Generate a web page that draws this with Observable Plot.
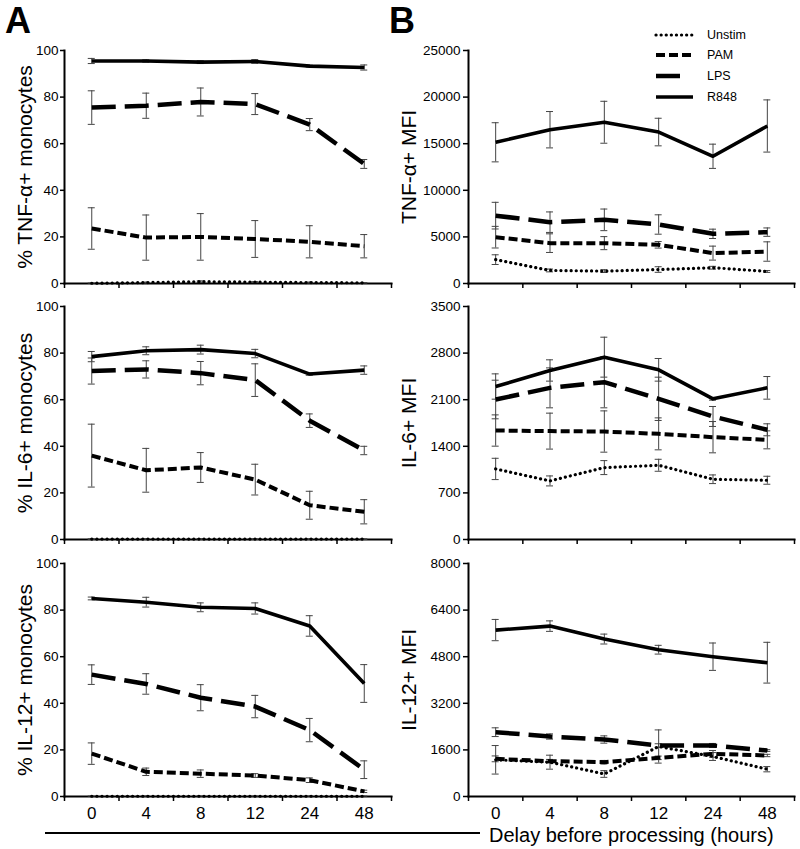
<!DOCTYPE html>
<html><head><meta charset="utf-8">
<script src="https://cdn.jsdelivr.net/npm/d3@7"></script>
<script src="https://cdn.jsdelivr.net/npm/@observablehq/plot@0.6"></script>
<style>
body{margin:0;background:#fff;font-family:"Liberation Sans",Arial,sans-serif;}
#fig{position:relative;width:800px;height:849px;overflow:hidden;background:#fff;}
#fig > svg, #fig > figure{position:absolute;margin:0;}
</style></head><body><div id="fig"></div>
<script>
// ---------- data ----------
const hours = ["0", "4", "8", "12", "24", "48"];
const series = ["Unstim", "PAM", "LPS", "R848"];

// A1: % TNF-α+ monocytes
const tnfPctUnstim = [0.1, 0.4, 0.8, 0.6, 0.4, 0.3];
const tnfPctUnstimErr = [0.1, 0.2, 0.3, 0.2, 0.2, 0.1];
const tnfPctPAM = [23.6, 19.7, 20.0, 19.1, 17.9, 16.0];
const tnfPctPAMErr = [8.9, 9.7, 10.0, 7.9, 6.9, 5.0];
const tnfPctLPS = [75.5, 76.3, 77.9, 77.0, 68.2, 51.3];
const tnfPctLPSErr = [7.2, 5.4, 6.0, 4.5, 2.6, 1.9];
const tnfPctR848 = [95.5, 95.5, 95.0, 95.3, 93.3, 92.7];
const tnfPctR848Err = [1.1, 0.5, 0.6, 0.8, 0.4, 1.1];

// A2: % IL-6+ monocytes
const il6PctUnstim = [0.2, 0.2, 0.2, 0.2, 0.2, 0.2];
const il6PctUnstimErr = [0.1, 0.1, 0.1, 0.1, 0.1, 0.1];
const il6PctPAM = [36.0, 29.7, 30.9, 25.7, 14.7, 11.9];
const il6PctPAMErr = [13.5, 9.4, 6.4, 6.6, 6.0, 5.2];
const il6PctLPS = [72.3, 73.0, 71.4, 68.4, 51.0, 38.2];
const il6PctLPSErr = [5.6, 3.7, 5.0, 7.0, 2.9, 1.8];
const il6PctR848 = [78.5, 81.0, 81.5, 79.8, 71.0, 72.7];
const il6PctR848Err = [2.2, 1.7, 1.9, 1.8, 0.5, 1.8];

// A3: % IL-12+ monocytes
const il12PctUnstim = [0.1, 0.1, 0.1, 0.1, 0.1, 0.1];
const il12PctUnstimErr = [0.1, 0.1, 0.1, 0.1, 0.1, 0.1];
const il12PctPAM = [18.4, 10.6, 9.8, 9.0, 7.0, 2.2];
const il12PctPAMErr = [4.6, 1.6, 1.6, 0.8, 1.0, 0.5];
const il12PctLPS = [52.3, 48.3, 42.4, 38.6, 28.5, 11.5];
const il12PctLPSErr = [4.2, 4.4, 5.6, 4.8, 5.0, 3.8];
const il12PctR848 = [85.0, 83.4, 81.2, 80.7, 73.2, 48.5];
const il12PctR848Err = [0.6, 2.1, 1.9, 2.4, 4.4, 8.1];

// B1: TNF-α+ MFI
const tnfMfiUnstim = [2560, 1400, 1330, 1500, 1690, 1290];
const tnfMfiUnstimErr = [520, 150, 150, 300, 150, 100];
const tnfMfiPAM = [4970, 4330, 4330, 4150, 3260, 3430];
const tnfMfiPAMErr = [1160, 1000, 700, 350, 750, 1040];
const tnfMfiLPS = [7280, 6580, 6830, 6330, 5330, 5510];
const tnfMfiLPSErr = [1430, 1100, 1160, 1040, 500, 450];
const tnfMfiR848 = [15150, 16500, 17300, 16250, 13650, 16900];
const tnfMfiR848Err = [2100, 1950, 2250, 1480, 1300, 2800];

// B2: IL-6+ MFI
const il6MfiUnstim = [1060, 880, 1080, 1115, 905, 890];
const il6MfiUnstimErr = [160, 75, 105, 90, 65, 60];
const il6MfiPAM = [1637, 1628, 1622, 1587, 1537, 1497];
const il6MfiPAMErr = [235, 270, 310, 240, 235, 135];
const il6MfiLPS = [2103, 2278, 2363, 2113, 1848, 1648];
const il6MfiLPSErr = [290, 300, 385, 325, 150, 90];
const il6MfiR848 = [2298, 2539, 2739, 2549, 2113, 2278];
const il6MfiR848Err = [190, 160, 300, 170, 20, 170];

// B3: IL-12+ MFI
const il12MfiUnstim = [1260, 1178, 773, 1716, 1373, 937];
const il12MfiUnstimErr = [490, 240, 115, 570, 135, 90];
const il12MfiPAM = [1293, 1213, 1178, 1327, 1465, 1408];
const il12MfiPAMErr = [100, 60, 60, 60, 115, 40];
const il12MfiLPS = [2208, 2060, 1957, 1751, 1751, 1579];
const il12MfiLPSErr = [150, 90, 125, 60, 70, 30];
const il12MfiR848 = [5714, 5850, 5406, 5040, 4800, 4594];
const il12MfiR848Err = [365, 180, 170, 150, 470, 700];

// axis ticks
const pctTicks = [0, 20, 40, 60, 80, 100];
const tnfMfiTicks = [0, 5000, 10000, 15000, 20000, 25000];
const il6MfiTicks = [0, 700, 1400, 2100, 2800, 3500];
const il12MfiTicks = [0, 1600, 3200, 4800, 6400, 8000];

// ---------- styles ----------
const FONT = '"Liberation Sans", Arial, Helvetica, sans-serif';
const lineStyle = {
  Unstim: {strokeWidth: 3.2, strokeDasharray: "0.1,5", strokeLinecap: "round"},
  PAM: {strokeWidth: 4, strokeDasharray: "9,4", strokeLinecap: "butt"},
  LPS: {strokeWidth: 4.5, strokeDasharray: "24,9", strokeLinecap: "butt"},
  R848: {strokeWidth: 3.6, strokeLinecap: "butt"}
};

const fig = document.getElementById("fig");

function makePanel(cfg) {
  const rows = [];
  series.forEach((s, si) => cfg.means[si].forEach((v, i) => rows.push({s, i, v, e: cfg.errs[si][i]})));
  const errStyle = {stroke: "#444", strokeWidth: 1};
  const marks = [
    Plot.frame({anchor: "left", strokeWidth: 2}),
    Plot.frame({anchor: "bottom", strokeWidth: 2}),
    Plot.ruleX(rows, {x: "i", y1: d => Math.max(0, d.v - d.e), y2: d => d.v + d.e, ...errStyle}),
    Plot.ruleY(rows, {x1: "i", x2: "i", y: d => d.v + d.e, insetLeft: -3.5, insetRight: -3.5, ...errStyle}),
    Plot.ruleY(rows.filter(d => d.v - d.e > 0), {x1: "i", x2: "i", y: d => d.v - d.e, insetLeft: -3.5, insetRight: -3.5, ...errStyle}),
    ...series.map(s => Plot.line(rows.filter(d => d.s === s), {x: "i", y: "v", stroke: "#000", ...lineStyle[s]})),
    Plot.axisY({ticks: cfg.yTicks, tickSize: cfg.tickSizeY, tickPadding: cfg.tickPadY, tickFormat: d3.format("d"), label: null, fontSize: 13.5, strokeWidth: 1.5}),
    Plot.axisY({ticks: [], label: cfg.yLabel, labelArrow: "none", labelAnchor: "center", labelOffset: cfg.labelOffset, fontSize: 21}),
    Plot.axisX({ticks: d3.range(-0.5, 6, 1), tickSize: 5, tickFormat: () => "", label: null, strokeWidth: 1.5})
  ];
  if (cfg.showX) marks.push(Plot.text(hours.map((h, i) => ({h, i})), {
    x: "i", text: "h", frameAnchor: "bottom", lineAnchor: "middle", dy: 17.5, fontSize: 17, fill: "#000"
  }));
  const chart = Plot.plot({
    width: 400,
    height: 10 + 233 + (cfg.showX ? 40 : 12),
    marginTop: 10,
    marginBottom: cfg.showX ? 40 : 12,
    marginLeft: cfg.marginLeft,
    marginRight: cfg.marginRight,
    x: {domain: [-0.5, 5.5], axis: null},
    y: {domain: cfg.yDomain, axis: null},
    style: {background: "transparent", fontFamily: FONT, color: "#000", overflow: "visible"},
    marks
  });
  chart.style.left = cfg.left + "px";
  chart.style.top = cfg.top + "px";
  fig.appendChild(chart);
}

const leftCol = {left: 0, marginLeft: 64, marginRight: 9, tickSizeY: 4, tickPadY: 2, labelOffset: 47};
const rightCol = {left: 400, marginLeft: 68, marginRight: 6, tickSizeY: 5, tickPadY: 3, labelOffset: 67};

makePanel({...leftCol, top: 40, showX: false, yDomain: [0, 100], yTicks: pctTicks, yLabel: "% TNF-\u03B1+ monocytes",
  means: [tnfPctUnstim, tnfPctPAM, tnfPctLPS, tnfPctR848], errs: [tnfPctUnstimErr, tnfPctPAMErr, tnfPctLPSErr, tnfPctR848Err]});
makePanel({...leftCol, top: 296, showX: false, yDomain: [0, 100], yTicks: pctTicks, yLabel: "% IL-6+ monocytes",
  means: [il6PctUnstim, il6PctPAM, il6PctLPS, il6PctR848], errs: [il6PctUnstimErr, il6PctPAMErr, il6PctLPSErr, il6PctR848Err]});
makePanel({...leftCol, top: 553, showX: true, yDomain: [0, 100], yTicks: pctTicks, yLabel: "% IL-12+ monocytes",
  means: [il12PctUnstim, il12PctPAM, il12PctLPS, il12PctR848], errs: [il12PctUnstimErr, il12PctPAMErr, il12PctLPSErr, il12PctR848Err]});
makePanel({...rightCol, top: 40, showX: false, yDomain: [0, 25000], yTicks: tnfMfiTicks, yLabel: "TNF-\u03B1+ MFI",
  means: [tnfMfiUnstim, tnfMfiPAM, tnfMfiLPS, tnfMfiR848], errs: [tnfMfiUnstimErr, tnfMfiPAMErr, tnfMfiLPSErr, tnfMfiR848Err]});
makePanel({...rightCol, top: 296, showX: false, yDomain: [0, 3500], yTicks: il6MfiTicks, yLabel: "IL-6+ MFI",
  means: [il6MfiUnstim, il6MfiPAM, il6MfiLPS, il6MfiR848], errs: [il6MfiUnstimErr, il6MfiPAMErr, il6MfiLPSErr, il6MfiR848Err]});
makePanel({...rightCol, top: 553, showX: true, yDomain: [0, 8000], yTicks: il12MfiTicks, yLabel: "IL-12+ MFI",
  means: [il12MfiUnstim, il12MfiPAM, il12MfiLPS, il12MfiR848], errs: [il12MfiUnstimErr, il12MfiPAMErr, il12MfiLPSErr, il12MfiR848Err]});

// ---------- overlay: panel letters, legend, shared x label ----------
const ov = d3.select(fig).append("svg")
  .attr("width", 800).attr("height", 849)
  .style("left", "0px").style("top", "0px")
  .style("font-family", FONT);
ov.append("text").attr("x", 5).attr("y", 33).attr("font-size", 36).attr("font-weight", "bold").text("A");
ov.append("text").attr("x", 389).attr("y", 33).attr("font-size", 36).attr("font-weight", "bold").text("B");

const legY = [35, 55, 76, 97];
const legLen = {Unstim: 37, PAM: 37, LPS: 25, R848: 37};
series.forEach((s, k) => {
  const st = lineStyle[s];
  ov.append("line").attr("x1", 656).attr("x2", 656 + legLen[s]).attr("y1", legY[k]).attr("y2", legY[k])
    .attr("stroke", "#000").attr("stroke-width", st.strokeWidth)
    .attr("stroke-dasharray", st.strokeDasharray || null).attr("stroke-linecap", st.strokeLinecap);
  ov.append("text").attr("x", 707).attr("y", legY[k]).attr("dy", "0.35em").attr("font-size", 12.5).text(s);
});

ov.append("line").attr("x1", 45).attr("x2", 480).attr("y1", 833).attr("y2", 833).attr("stroke", "#000").attr("stroke-width", 2);
ov.append("text").attr("x", 489).attr("y", 842).attr("font-size", 20).text("Delay before processing (hours)");
</script></body></html>
